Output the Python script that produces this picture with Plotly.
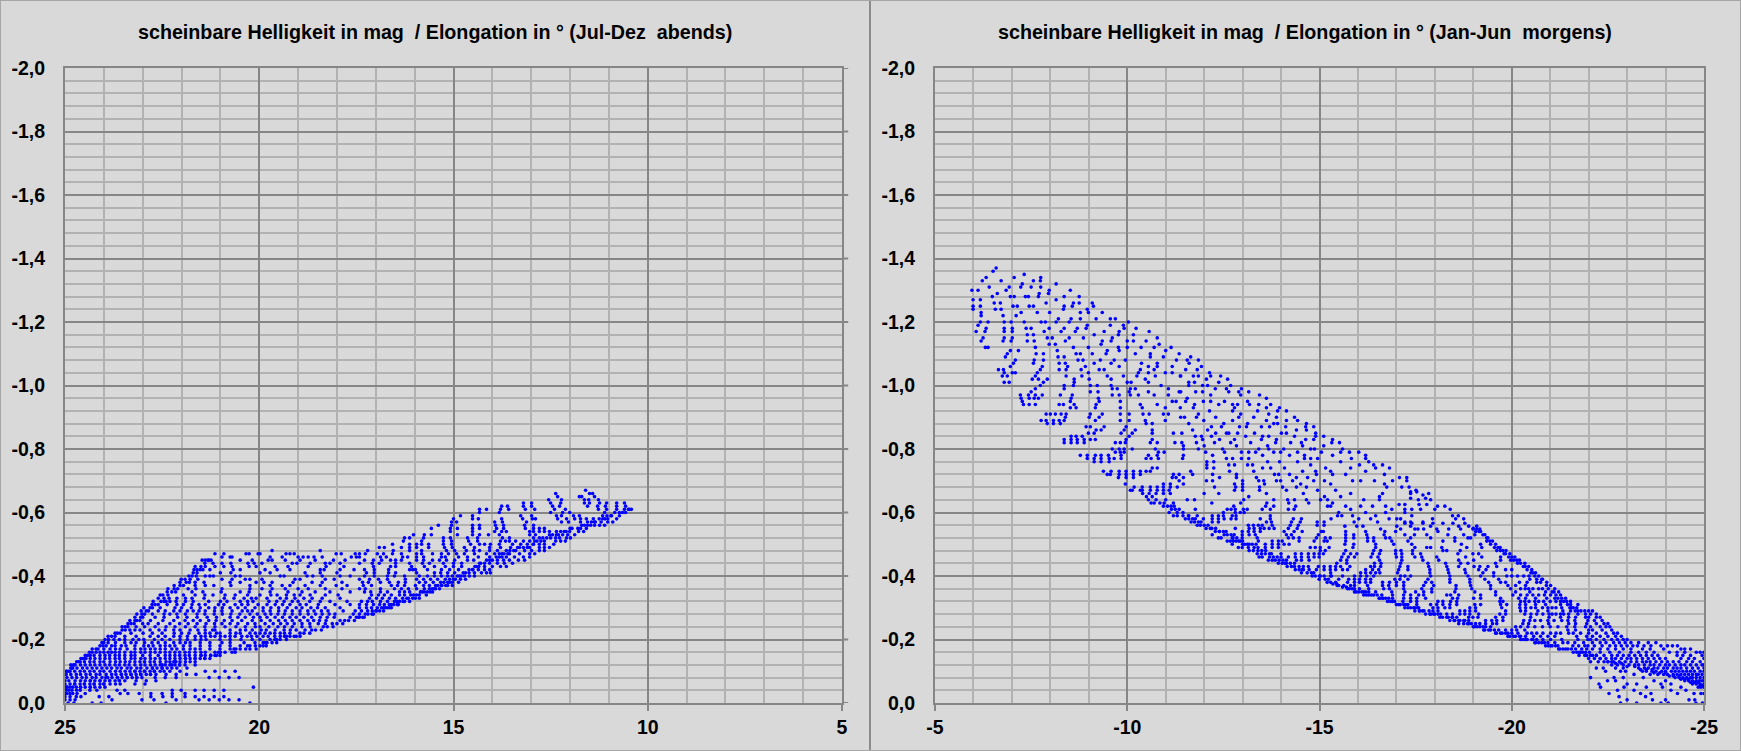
import plotly.graph_objs as go

# values: (magnitude, [elongations at that magnitude])
x_ticks_left = [25, 20, 15, 10, 5]
x_ticks_right = [-5, -10, -15, -20, -25]
y_ticks = [-2.0, -1.8, -1.6, -1.4, -1.2, -1.0, -0.8, -0.6, -0.4, -0.2, 0.0]
y_labels = ["-2,0", "-1,8", "-1,6", "-1,4", "-1,2", "-1,0", "-0,8", "-0,6", "-0,4", "-0,2", "0,0"]
title_left = "scheinbare Helligkeit in mag  / Elongation in ° (Jul-Dez  abends)"
title_right = "scheinbare Helligkeit in mag  / Elongation in ° (Jan-Jun  morgens)"

# left chart, elongation below 17.4
left_upper = [
    (-0.67, [11.6]),
    (-0.66, [12.37, 11.5, 11.42]),
    (-0.65, [12.32, 11.76, 11.7, 11.37]),
    (-0.64, [12.55, 12.22, 11.63, 11.52, 11.27]),
    (-0.63, [13.2, 12.99, 12.5, 12.24, 11.63, 11.5, 11.24, 11.06, 10.8, 10.6]),
    (-0.62, [13.76, 13.61, 13.2, 12.99, 12.45, 12.27, 11.55, 11.29, 11.09, 10.8, 10.57]),
    (-0.61, [14.33, 14.15, 13.79, 13.58, 13.15, 12.91, 12.4, 12.12, 11.27, 11.06, 10.8, 10.47, 10.42]),
    (-0.60, [14.33, 13.82, 12.5, 12.19, 12.01, 11.11, 10.73, 10.57]),
    (-0.59, [14.82, 14.51, 13.27, 12.99, 12.35, 12.22, 11.91, 11.76, 11.16, 10.93, 10.73]),
    (-0.58, [15, 14.51, 14.36, 13.76, 13.22, 12.97, 12.89, 12.32, 12.09, 11.88, 11.73, 11.58, 11.4, 11.16, 11.03, 10.8]),
    (-0.57, [15.05, 14.92, 13.94, 13.74, 13.12, 12.22, 12.04, 11.73, 11.55, 11.37, 11.03, 10.9]),
    (-0.56, [15.39, 15.05, 14.51, 14.33, 13.92, 13.71, 13.17, 12.94, 11.63, 11.47, 11.37, 11.24, 11.11]),
    (-0.55, [15.57, 15.08, 14.9, 14.51, 14.33, 13.89, 13.71, 13.15, 12.94, 12.79, 12.66, 11.73, 11.58]),
    (-0.54, [15.08, 14.51, 13.94, 13.76, 13.64, 13.04, 12.94, 12.79, 12.66, 12.53, 12.35, 12.24, 12.01, 11.78, 11.65]),
    (-0.53, [16.03, 15.75, 15.57, 14.9, 14.51, 14.33, 14.1, 13.82, 13.04, 12.89, 12.53, 12.35, 12.19, 12.06, 11.88]),
    (-0.52, [16.26, 16.13, 15.77, 15.26, 15.08, 14.64, 14.38, 13.74, 13.56, 12.94, 12.79, 12.37, 12.27, 12.09, 11.99]),
    (-0.51, [16.29, 15.82, 15.26, 15.05, 14.61, 14.38, 13.79, 13.66, 13.56, 13.4, 13.2, 13.04, 12.91, 12.66, 12.37, 12.24, 12.12]),
    (-0.50, [16.57, 16.13, 15.95, 15.82, 15.64, 15.26, 15.05, 14.56, 14.33, 14.2, 14.05, 13.82, 13.48, 13.27, 12.94, 12.79, 12.66, 12.42]),
    (-0.49, [16.91, 16.78, 16.34, 16.13, 15.95, 15.64, 15.23, 15.03, 14.72, 14.46, 14.07, 13.79, 13.53, 13.3, 13.04, 12.79, 12.66, 12.53]),
    (-0.48, [17.21, 16.55, 16.13, 15.82, 15.18, 14.97, 14.67, 14.48, 14.33, 14.07, 13.87, 13.64, 13.4, 13.17, 12.99, 12.79, 12.66]),
    (-0.47, [17.42, 17.27, 16.96, 16.8, 16.57, 16.34, 15.95, 15.82, 15.54, 15.31, 15.13, 14.92, 14.72, 14.46, 14.15, 13.94, 13.82, 13.56, 13.3, 13.04, 12.91]),
    (-0.46, [17.42, 16.88, 16.73, 16.31, 16.18, 15.95, 15.77, 15.31, 15.21, 14.87, 14.64, 14.36, 14.07, 13.82, 13.64, 13.43, 13.2, 13.04]),
    (-0.45, [17.29, 17.06, 16.85, 16.62, 16.49, 16.34, 15.95, 15.77, 15.54, 15.36, 15.18, 14.97, 14.64, 14.48, 14.07, 13.87, 13.71, 13.56, 13.33, 13.17]),
    (-0.44, [17.42, 17.09, 16.91, 16.49, 16.13, 15.8, 15.62, 15.26, 15, 14.79, 14.33, 14.07, 13.87, 13.69, 13.48]),
    (-0.43, [17.06, 16.62, 16.49, 16.08, 15.75, 15.49, 15.21, 15, 14.79, 14.41, 14.2, 14.0, 13.79, 13.64]),
    (-0.42, [17.29, 17.04, 16.67, 16.13, 16.05, 15.98, 15.67, 15.31, 15.1, 14.87, 14.51, 14.36, 14.2, 14.07]),
    (-0.41, [17.24, 17.04, 16.67, 16.49, 15.95, 15.49, 15.33, 15.15, 14.97, 14.69, 14.46, 14.28, 14.15, 14.05]),
    (-0.40, [17.29, 17.04, 16.7, 16.52, 16.26, 15.88, 15.67, 15.49, 15.31, 15.15, 15.03, 14.9, 14.72, 14.59, 14.46]),
    (-0.39, [17.42, 17.16, 16.93, 16.7, 16.24, 15.95, 15.77, 15.59, 15.41, 15.21, 14.95, 14.82, 14.69]),
    (-0.38, [17.34, 17.19, 16.88, 16.65, 16.42, 16.24, 15.88, 15.72, 15.52, 15.33, 15.15, 15.03, 14.87]),
    (-0.37, [17.32, 17.11, 16.6, 16.44, 16.26, 15.98, 15.77, 15.62, 15.46, 15.31, 15.15, 15.03]),
    (-0.36, [17.42, 17.27, 16.88, 16.52, 16.34, 16.16, 15.95, 15.75, 15.62, 15.46, 15.36]),
    (-0.35, [17.29, 17.13, 16.88, 16.7, 16.39, 16.26, 16.13, 15.8, 15.67, 15.54]),
    (-0.34, [17.11, 16.93, 16.78, 16.6, 16.39, 16.26, 16.03, 15.88]),
    (-0.33, [17.16, 16.98, 16.83, 16.65, 16.49, 16.31, 16.16, 15.98, 15.88]),
    (-0.32, [17.37, 17.21, 17.09, 16.88, 16.7, 16.52, 16.39, 16.26, 16.13]),
    (-0.31, [17.42, 17.24, 17.06, 16.9, 16.78, 16.65, 16.54, 16.42]),
    (-0.30, [17.42, 17.24, 17.11, 16.96, 16.85, 16.75, 16.65]),
    (-0.29, [17.37, 17.21, 17.09, 16.98]),
    (-0.28, [17.42, 17.27, 17.06]),
    (-0.27, [17.42, 17.34]),
]

# left chart, elongation above 17.4
left_lower = [
    (-0.48, [19.67, 18.43]),
    (-0.47, [21.14, 20.91, 20.34, 20.26, 20.03, 19.98, 19.31, 19.21, 19.1, 18.02, 17.89, 17.53]),
    (-0.46, [20.96, 20.75, 20.7, 19.72, 19.41, 19, 18.87, 18.74, 18.59, 18.38, 17.63, 17.5]),
    (-0.45, [21.47, 21.39, 21.32, 21.24, 20.49, 20.18, 19.77, 19.67, 19.33, 18.95, 18.56, 18.09, 17.79]),
    (-0.44, [21.19, 20.96, 20.73, 20.29, 20.13, 19.93, 19.15, 19.03, 18.69, 18.3, 18.18, 17.92]),
    (-0.43, [21.65, 21.39, 21.14, 20.91, 20.7, 20.26, 20.08, 19.59, 19.26, 18.74, 18.28, 17.82]),
    (-0.42, [21.68, 21.52, 21.27, 20.67, 20.49, 19.85, 19.54, 19.21, 18.43, 18.33, 17.92, 17.56]),
    (-0.41, [21.7, 21.0, 20.73, 19.98, 19.72, 18.82, 18.43, 18.0]),
    (-0.40, [21.81, 21.73, 21.39, 21.27, 21.18, 20.62, 20.49, 19.46, 19.36, 18.77, 18.62, 18.38, 17.92, 17.66]),
    (-0.39, [22.01, 21.91, 21.58, 20.96, 20.7, 20.36, 20.24, 19.93, 19.08, 18.95, 18.3, 18.07]),
    (-0.38, [22.04, 21.88, 21.65, 21.42, 20.75, 20.49, 20.08, 19.88, 19.67, 19.13, 18.64, 18.38, 17.87]),
    (-0.37, [22.19, 22.04, 21.65, 21.39, 21.17, 20.73, 20.24, 19.72, 19.41, 19.21, 18.82, 18.43, 18.02, 17.74]),
    (-0.36, [22.35, 22.19, 21.83, 21.63, 20.96, 20.24, 19.93, 19.67, 19.33, 19.0, 18.74, 18.3, 17.87]),
    (-0.35, [22.37, 21.73, 21.45, 20.98, 20.49, 20.26, 19.72, 19.26, 18.9, 18.56, 18.18, 17.66]),
    (-0.34, [22.55, 22.48, 21.65, 21.19, 20.88, 20.62, 19.98, 19.54, 19.1, 18.69, 18.3, 17.97]),
    (-0.33, [22.6, 22.32, 22.12, 21.73, 21.42, 20.65, 20.39, 20.08, 19.46, 19.08, 18.64, 18.38, 17.92]),
    (-0.32, [22.73, 22.53, 22.14, 21.7, 20.83, 20.49, 20.16, 19.75, 19.36, 19.0, 18.43, 18.18, 17.74]),
    (-0.31, [22.76, 22.68, 22.37, 22.12, 21.73, 21.39, 20.91, 20.62, 20.29, 20.03, 19.59, 19.21, 18.79, 18.48, 18.05, 17.66]),
    (-0.30, [22.97, 22.81, 22.17, 21.52, 21.14, 20.75, 20.36, 20.11, 19.7, 19.28, 19.05, 18.67, 18.3, 17.92]),
    (-0.29, [23.04, 22.91, 22.42, 22.04, 21.7, 21.39, 20.96, 20.44, 20.18, 19.72, 19.33, 18.95, 18.59, 18.23, 17.84, 17.53]),
    (-0.28, [23.15, 23.02, 22.45, 22.3, 22.12, 21.6, 21.16, 20.73, 20.24, 19.85, 19.52, 19.15, 18.74, 18.38, 18.05, 17.58]),
    (-0.27, [23.2, 22.68, 21.86, 21.34, 20.75, 20.36, 19.98, 19.59, 19.21, 18.85, 18.43, 18.07, 17.66]),
    (-0.26, [23.33, 23.07, 22.48, 21.91, 21.52, 21.11, 20.7, 20.18, 19.72, 19.33, 18.95, 18.6, 18.28, 17.92]),
    (-0.25, [23.38, 23.22, 22.86, 22.3, 21.83, 21.37, 20.96, 20.55, 20.11, 19.64, 19.28, 18.9, 18.48, 18.12]),
    (-0.24, [23.53, 23.38, 23.17, 22.68, 22.17, 21.65, 21.14, 20.88, 20.36, 19.98, 19.52, 19.15, 18.69]),
    (-0.23, [23.53, 23.33, 23.07, 22.81, 22.58, 22.42, 22.04, 21.78, 21.58, 21.39, 21.14, 20.75, 20.49, 20.18, 19.82, 19.59, 19.36, 19.05, 18.82]),
    (-0.22, [23.71, 23.58, 23.3, 22.99, 22.19, 21.81, 21.39, 21.27, 21.01, 20.75, 20.49, 20.24, 19.98, 19.72, 19.46, 19.21]),
    (-0.21, [23.89, 23.71, 23.46, 23.17, 22.81, 22.42, 22.04, 21.65, 21.39, 21.14, 20.88, 20.62, 20.31, 20.06, 19.77, 19.46, 19.21, 18.95]),
    (-0.20, [23.97, 23.74, 23.46, 23.25, 22.97, 22.5, 22.04, 21.65, 21.37, 21.01, 20.75, 20.47, 20.18, 19.98, 19.72, 19.46]),
    (-0.19, [24.05, 23.89, 23.46, 23.17, 22.76, 22.42, 22.04, 21.78, 21.52, 21.27, 20.96, 20.75, 20.39, 20.11, 19.9, 19.67]),
    (-0.18, [24.1, 23.94, 23.71, 23.43, 22.97, 22.73, 22.42, 22.17, 21.78, 21.52, 21.27, 21.01, 20.75, 20.49, 20.24, 19.98, 19.82]),
    (-0.17, [24.3, 24.15, 23.84, 23.58, 23.2, 22.94, 22.68, 22.42, 22.12, 21.78, 21.52, 21.27, 21.01, 20.75, 20.49, 20.24, 20.08]),
    (-0.16, [24.3, 24.1, 23.89, 23.71, 23.46, 23.2, 22.94, 22.68, 22.42, 22.17, 21.91, 21.65, 21.39, 21.14, 20.88, 20.62]),
    (-0.15, [24.48, 24.25, 23.97, 23.71, 23.46, 23.2, 22.81, 22.42, 22.17, 21.91, 21.65, 21.39, 21.14, 21.01]),
    (-0.14, [24.59, 24.46, 24.23, 23.97, 23.71, 23.46, 23.2, 22.94, 22.68, 22.42, 22.17, 22.04, 21.78, 21.52, 21.27]),
    (-0.13, [24.61, 24.36, 24.1, 23.84, 23.58, 23.33, 23.07, 22.81, 22.55, 22.3, 22.04, 21.78, 21.65]),
    (-0.12, [24.85, 24.74, 24.48, 24.23, 23.97, 23.71, 23.46, 23.2, 22.94, 22.68, 22.42, 22.17, 21.91, 21.65]),
    (-0.11, [24.69, 24.43, 24.18, 23.92, 23.66, 23.4, 23.15, 22.89, 22.63, 22.37, 22.12, 21.86]),
    (-0.10, [24.97, 24.87, 24.61, 24.36, 24.1, 23.84, 23.58, 23.33, 23.07, 22.81, 22.55, 22.3, 22.04, 21.39, 21.14, 20.88, 20.62]),
    (-0.09, [24.97, 24.71, 24.46, 24.2, 23.94, 23.69, 23.43, 23.17, 22.91, 22.66, 22.4, 22.14, 21.87, 21.63]),
    (-0.08, [24.82, 24.56, 24.3, 24.05, 23.79, 23.53, 23.27, 23.02, 22.68, 22.42, 22.14, 21.29, 21.03, 20.78, 20.52]),
    (-0.07, [25, 24.74, 24.48, 24.23, 23.97, 23.71, 23.46, 23.17, 22.91, 22.66]),
    (-0.06, [25, 24.87, 24.61, 24.36, 24.1, 23.84, 23.58, 23.2, 22.94]),
    (-0.05, [24.87, 24.71, 24.48, 24.23, 23.97, 20.15]),
    (-0.04, [24.97, 24.82, 24.61, 24.36, 24.18, 23.66, 23.46, 22.01, 22.24, 21.65, 21.42, 21.16, 20.91]),
    (-0.03, [25, 24.87, 24.69, 24.48, 23.58, 23.38, 23.09, 22.79, 22.5, 22.24, 21.91]),
    (-0.02, [25, 24.87, 24.71, 24.59, 24.12, 23.87, 22.79, 22.48, 22.24, 21.91, 21.65, 21.42, 21.16, 20.91]),
    (-0.01, [25, 24.87, 24.74, 23.79, 23.02, 22.71, 22.14, 21.55, 21.29, 21.03, 20.78, 20.52]),
    (0.0, [24.92, 24.77, 24.3, 24.07, 22.4, 20.24]),
]

# left chart, more dots between 18 and 23
left_fill = [
    (-0.34, [21.95, 21.4, 20.3, 19.7, 19.3, 18.95]),
    (-0.33, [21.9, 20.9, 20.2, 19.8, 19.3, 18.85]),
    (-0.32, [22.3, 21.9, 21.3, 21.0, 20.3, 19.55, 19.15, 18.7]),
    (-0.31, [21.95, 21.55, 21.05, 20.45, 19.8, 19.4, 18.95]),
    (-0.30, [22.55, 22.0, 21.75, 21.3, 20.95, 20.55, 19.9, 19.5, 18.9, 18.5]),
    (-0.29, [22.6, 22.2, 21.85, 21.55, 21.15, 20.7, 20.3, 19.9, 19.5, 19.15, 18.75, 18.4]),
    (-0.28, [22.75, 21.9, 21.4, 20.95, 20.5, 20.05, 19.7, 19.35, 18.95, 18.55, 18.2]),
    (-0.27, [23.0, 22.45, 22.1, 21.6, 21.1, 20.55, 20.15, 19.8, 19.4, 19.05, 18.65, 18.25]),
    (-0.26, [23.15, 22.8, 22.2, 21.7, 21.3, 20.9, 20.45, 19.95, 19.5, 19.15, 18.75, 18.45]),
    (-0.25, [23.0, 22.6, 22.05, 21.6, 21.15, 20.75, 20.3, 19.85, 19.45, 19.1, 18.7, 18.3]),
    (-0.24, [22.95, 22.4, 21.9, 21.4, 20.6, 20.1, 19.75, 19.35, 18.9]),
    (-0.23, [23.2, 22.2, 21.2, 20.35, 19.95, 19.2]),
    (-0.22, [22.75, 22.5, 22.0, 21.55, 21.1, 20.6, 20.1, 19.85, 19.6, 19.35]),
    (-0.21, [22.6, 22.2, 21.85, 21.5, 21.25, 21.0, 20.75, 20.45, 20.2, 19.9, 19.6, 19.35]),
]

# left chart, upper and lower rim of the cloud, where the dots run together
left_upper_rim = [
    (-0.10, [24.95, 24.9]), (-0.11, [24.85, 24.82]), (-0.12, [24.78]), (-0.13, [24.7, 24.65]),
    (-0.14, [24.55, 24.5]), (-0.15, [24.42]), (-0.16, [24.37]), (-0.17, [24.2]), (-0.18, [24.02]),
    (-0.19, [24.0]), (-0.20, [23.88]), (-0.21, [23.8]), (-0.22, [23.65]), (-0.23, [23.45]),
    (-0.24, [23.45]), (-0.25, [23.3]), (-0.26, [23.2]), (-0.27, [23.05]), (-0.28, [22.95]),
    (-0.29, [22.85]), (-0.30, [22.75]), (-0.31, [22.6]), (-0.32, [22.45, 22.4]), (-0.33, [22.45]),
    (-0.34, [22.35]), (-0.35, [22.25, 22.15]), (-0.36, [22.1]), (-0.37, [21.95]), (-0.38, [21.8]),
    (-0.39, [21.78]), (-0.40, [21.62]), (-0.41, [21.6]), (-0.42, [21.6, 21.45]), (-0.43, [21.5]),
    (-0.44, [21.4]), (-0.45, [21.3]),
]

left_lower_rim = [
    (-0.61, [10.5, 10.6]), (-0.60, [10.65, 10.85]), (-0.59, [10.95, 11.05]), (-0.58, [11.1, 11.25]),
    (-0.57, [11.2, 11.35, 11.45]), (-0.56, [11.55, 11.7]), (-0.55, [11.8, 11.95, 12.0]), (-0.54, [12.1, 12.15]),
    (-0.53, [12.3, 12.45]), (-0.52, [12.5, 12.6, 12.7]), (-0.51, [12.75, 12.85]), (-0.50, [12.95, 13.1]),
    (-0.49, [13.1, 13.2, 13.35]), (-0.48, [13.45, 13.55]), (-0.47, [13.6, 13.7, 13.75]), (-0.46, [13.75, 13.9]),
    (-0.45, [14.0, 14.15]), (-0.44, [14.2, 14.3]), (-0.43, [14.35, 14.45]), (-0.42, [14.5, 14.6]),
    (-0.41, [14.6, 14.75]), (-0.40, [14.8, 14.85]), (-0.39, [15.0, 15.1]), (-0.38, [15.1, 15.25]),
    (-0.37, [15.2, 15.3, 15.4]), (-0.36, [15.5, 15.55]), (-0.35, [15.6, 15.75, 15.85]), (-0.34, [15.7, 15.95, 16.1]),
    (-0.33, [16.05, 16.2]), (-0.32, [16.3, 16.45]), (-0.31, [16.45, 16.6]), (-0.30, [16.6, 16.7, 16.8]),
    (-0.29, [16.8, 16.9, 17.0]), (-0.28, [17.1, 17.2]), (-0.27, [17.3, 17.45, 17.5]), (-0.26, [17.55, 17.7, 17.8]),
    (-0.25, [17.85, 18.0]), (-0.24, [18.1, 18.25, 18.35]), (-0.23, [18.4, 18.55, 18.65]), (-0.22, [18.7, 18.85, 18.95]),
    (-0.21, [19.05, 19.1, 19.3]), (-0.20, [19.3, 19.55, 19.6]), (-0.19, [19.55, 19.8, 19.85]), (-0.18, [19.9, 20.1, 20.3]),
    (-0.17, [20.35, 20.6, 20.65]), (-0.16, [20.7, 21.0, 21.05]), (-0.15, [21.1, 21.25, 21.5]), (-0.14, [21.4, 21.65, 21.9]),
    (-0.13, [21.9, 22.15, 22.2]), (-0.12, [22.05, 22.25, 22.5]), (-0.11, [22.25, 22.5, 22.75]), (-0.10, [22.7, 22.95, 23.2]),
    (-0.09, [22.8, 23.05, 23.3, 23.55]), (-0.08, [23.15, 23.4, 23.65, 23.9]), (-0.07, [23.6, 23.85, 24.1, 24.35]),
    (-0.06, [24.0, 24.25, 24.5, 24.75]), (-0.05, [24.35, 24.6, 24.8, 24.95]), (-0.04, [24.7, 24.9]), (-0.03, [24.8, 24.95]),
]

# left chart, the thick part near 25
left_dense = [
    (-0.20, [23.6, 23.1, 22.7, 22.3, 21.85, 21.5]),
    (-0.19, [23.7, 23.3, 22.95, 22.6, 22.2, 21.9]),
    (-0.18, [23.8, 23.55, 23.2, 22.85, 22.55, 22.3, 21.95]),
    (-0.17, [24.0, 23.7, 23.4, 23.05, 22.8, 22.55, 22.25, 21.95, 21.65]),
    (-0.16, [24.2, 24.0, 23.8, 23.6, 23.3, 23.05, 22.8, 22.55, 22.3, 22.05, 21.8, 21.5]),
    (-0.15, [24.35, 24.1, 23.85, 23.6, 23.3, 23.0, 22.6, 22.3, 22.05, 21.8, 21.5, 21.25]),
    (-0.14, [24.35, 24.1, 23.85, 23.6, 23.3, 23.05, 22.8, 22.55, 22.3, 21.9, 21.65, 21.4]),
    (-0.13, [24.5, 24.25, 24.0, 23.7, 23.45, 23.2, 22.95, 22.7, 22.4, 22.15]),
    (-0.12, [24.6, 24.35, 24.1, 23.85, 23.6, 23.35, 23.05, 22.8, 22.55, 22.3, 22.05]),
    (-0.11, [24.8, 24.55, 24.3, 24.05, 23.8, 23.55, 23.3, 23.05, 22.75, 22.5]),
    (-0.10, [24.75, 24.5, 24.25, 24.0, 23.7, 23.45, 23.2, 22.95, 22.7, 22.45]),
    (-0.09, [24.85, 24.6, 24.35, 24.1, 23.8, 23.55, 23.3, 23.05, 22.8]),
    (-0.08, [24.95, 24.7, 24.45, 24.2, 23.95, 23.65, 23.4, 23.15]),
    (-0.07, [24.9, 24.6, 24.35, 24.1, 23.85, 23.6]),
    (-0.06, [24.75, 24.5, 24.25, 24.0, 23.7]),
    (-0.05, [25, 24.95, 24.6, 24.35, 24.1]),
]

# right chart, crescents at the bright end
right_top = [
    (-1.37, [-6.59]),
    (-1.36, [-6.51]),
    (-1.35, [-7.32]),
    (-1.34, [-6.33, -7.06, -7.75]),
    (-1.33, [-6.23, -6.72, -7.56, -7.74]),
    (-1.32, [-7.27, -8.15]),
    (-1.31, [-6.41, -6.93, -7.23, -7.5, -7.75]),
    (-1.30, [-5.96, -6.12, -6.85, -7.97, -8.52]),
    (-1.29, [-6.62, -7.71, -7.95]),
    (-1.28, [-6.49, -6.96, -7.06, -7.35, -7.43, -7.69, -8.36, -8.75]),
    (-1.27, [-5.99, -6.18, -8.15]),
    (-1.26, [-6.54, -6.7, -7.89, -8.6, -8.75, -9.09]),
    (-1.25, [-5.99, -6.18, -7.03, -7.14, -7.45, -7.56, -8.36, -8.57, -9.12]),
    (-1.24, [-5.99, -6.57, -6.72, -8.34, -8.96]),
    (-1.23, [-6.2, -7.24, -7.66, -7.98, -8.78, -8.99, -9.35]),
    (-1.22, [-6.2, -6.77, -7.11]),
    (-1.21, [-8.21, -8.54, -8.78, -9.19, -9.56, -9.69]),
    (-1.20, [-6.18, -6.38, -6.8, -6.98, -7.32, -7.76, -7.87, -8.15, -8.49, -10.03]),
    (-1.19, [-6.12, -8.96, -9.56, -9.9]),
    (-1.18, [-6.33, -6.8, -7.01, -7.37, -7.5, -7.97, -8.36, -8.7, -8.93, -9.92, -10.23]),
    (-1.17, [-6.07, -6.3, -6.8, -7.01, -7.84, -8.28, -8.65, -9.4, -9.79, -10.57]),
    (-1.16, [-7.4, -7.56, -9.14, -9.77, -10.16]),
    (-1.15, [-6.25, -6.8, -7.01, -7.92, -8.05, -8.49, -8.86, -9.61, -10.78]),
    (-1.14, [-6.2, -6.77, -6.98, -7.4, -7.58, -8.39, -9.35, -9.58, -10.0, -10.16, -10.49]),
    (-1.13, [-7.97, -8.13, -9.32, -10.83]),
    (-1.12, [-6.31, -6.38, -7.61, -8.6, -8.99, -9.77, -10.0, -10.36, -10.7, -11.14]),
    (-1.11, [-6.96, -7.17, -8.18, -9.48, -9.79, -11.0]),
    (-1.10, [-6.88, -7.63, -7.82, -8.67, -8.78, -9.09, -9.45, -10.21, -10.6, -11.35]),
    (-1.09, [-6.83, -8.2, -8.36, -10.6, -10.94, -11.65]),
    (-1.08, [-7.09, -7.58, -7.82, -8.72, -8.85, -9.3, -9.66, -9.95, -11.28, -11.56, -11.85]),
    (-1.07, [-7.04, -7.56, -8.23, -8.39, -9.14, -9.58, -10.37, -10.78, -11.61]),
    (-1.06, [-6.96, -7.79, -8.45, -8.91, -9.79, -10.55, -10.78, -11.17, -11.93]),
    (-1.05, [-6.65, -6.78, -7.74, -8.23, -8.41, -8.8, -9.27, -9.4, -10.34, -10.7, -11.52, -11.82]),
    (-1.04, [-6.8, -7.01, -7.09, -7.66, -8.99, -10.29, -10.55, -10.99, -11.17, -12.14]),
    (-1.03, [-6.75, -6.88, -7.61, -8.41, -8.82, -9.48, -9.9, -10.25, -10.73, -11.38, -11.39, -11.72, -11.85, -12.17, -12.43]),
    (-1.02, [-7.53, -7.69, -7.92, -8.62, -9.01, -9.58, -10.47, -12.06, -12.61]),
    (-1.01, [-6.8, -6.93, -7.82, -8.62, -10.0, -10.1, -10.55, -11.6, -11.75, -12.38]),
    (-1.00, [-7.74, -8.36, -8.6, -9.04, -9.22, -9.58, -10.88, -11.6, -11.96, -12.09, -12.69]),
    (-0.99, [-7.61, -8.36, -9.61, -9.74, -10.08, -10.21, -11.07, -12.29, -12.58, -12.97]),
    (-0.98, [-7.5, -9.04, -9.24, -10.05, -10.55, -11.35, -11.39, -11.78, -11.96, -12.64, -12.9, -13.16]),
    (-0.97, [-7.22, -7.43, -7.61, -7.79, -8.26, -8.57, -9.61, -9.79, -10.08, -10.29, -10.7, -11.07, -12.17, -12.95, -13.44]),
    (-0.96, [-7.24, -7.45, -7.58, -7.69, -8.54, -9.25, -11.56, -13.62]),
    (-0.95, [-7.27, -8.52, -9.27, -9.82, -11.17, -11.27, -11.52, -11.98, -12.17, -12.53, -13.13]),
    (-0.94, [-7.3, -7.45, -7.61, -8.23, -8.34, -8.62, -9.19, -10.34, -10.78, -11.75, -12.38, -12.74, -12.87, -13.18, -13.42, -13.73]),
    (-0.93, [-8.52, -8.67, -9.17, -9.82, -10.39, -10.99, -11.38, -11.72, -12.79, -13.62, -13.96]),
    (-0.92, [-12.14, -12.74, -13.39, -13.91, -14.14]),
    (-0.91, [-7.89, -8.0, -8.13, -8.28, -8.41, -9.04, -9.35, -9.82, -10.05, -10.41, -10.57, -10.94, -11.07, -11.85, -12.95, -13.68]),
    (-0.90, [-8.39, -9.01, -9.27, -11.39, -11.49, -11.8, -12.3, -12.9, -13.29, -13.88, -14.35]),
    (-0.89, [-7.76, -7.89, -8.08, -8.23, -8.36, -9.17, -9.82, -10.05, -10.47, -10.99, -11.99, -12.74, -13.62, -14.14, -14.43]),
    (-0.88, [-7.92, -8.08, -8.26, -10.49, -10.65, -11.6, -12.51, -13.13, -13.81, -13.91, -14.66]),
    (-0.87, [-8.93, -9.04, -9.4, -9.97, -12.19, -12.45, -12.92, -13.1, -13.49, -13.7, -14.12, -14.64, -14.85]),
    (-0.86, [-9.19, -9.32, -9.92, -10.21, -10.65, -11.7, -12.09, -14.4, -14.66]),
    (-0.85, [-8.99, -9.14, -9.84, -10.13, -10.65, -11.2, -11.42, -12.3, -12.58, -12.64, -12.87, -13.31, -14.01, -14.14, -14.9]),
    (-0.84, [-8.54, -8.67, -8.83, -10.05, -11.77, -11.93, -12.19, -13.08, -13.52, -13.68, -14.35, -15.11, -14.9]),
    (-0.83, [-8.36, -8.54, -8.7, -8.88, -9.04, -9.17, -9.97, -10.65, -11.96, -12.4, -12.79, -13.49, -13.88, -14.64, -14.85, -15.34]),
    (-0.82, [-8.36, -8.54, -8.7, -8.88, -9.69, -9.82, -9.95, -10.6, -10.78, -11.24, -11.42, -11.8, -12.27, -12.69, -13.21, -13.86, -14.25, -14.53, -15.32, -15.52]),
    (-0.81, [-11.46, -12.0, -12.84, -13.65, -14.56, -15.11]),
    (-0.80, [-9.61, -9.79, -9.92, -10.13, -10.73, -11.46, -11.85, -12.48, -13.42, -13.68, -14.07, -14.77, -14.87, -15.6]),
    (-0.79, [-9.69, -9.82, -9.92, -10.81, -10.96, -12.04, -12.53, -12.97, -13.16, -13.34, -13.81, -13.99, -14.43, -15.05, -15.55, -15.78, -16.02]),
    (-0.78, [-8.78, -8.96, -9.17, -9.32, -9.51, -9.84, -10.55, -10.78, -11.46, -12.22, -13.52, -14.22, -14.61, -15.34, -16.2]),
    (-0.77, [-8.96, -9.14, -9.32, -9.53, -9.66, -9.84, -10.49, -10.62, -10.81, -11.44, -12.58, -12.74, -12.97, -13.16, -14.61, -14.77, -14.95, -15.83, -16.2]),
    (-0.76, [-9.14, -9.32, -9.53, -12.07, -12.25, -13.65, -13.96, -14.43, -15.55, -16.28]),
    (-0.75, [-12.07, -12.64, -12.79, -13.13, -13.26, -14.77, -16.04, -16.41, -16.64]),
    (-0.74, [-10.65, -10.78, -12.07, -12.25, -13.52, -13.73, -14.09, -15.16, -15.81, -16.46, -16.82]),
    (-0.73, [-9.38, -9.58, -9.79, -9.97, -10.16, -10.34, -10.49, -10.6, -11.65, -12.66, -13.29, -14.56, -14.9, -15.29, -16.2]),
    (-0.72, [-9.48, -9.56, -9.79, -9.97, -10.16, -10.34, -11.2, -11.35, -11.7, -12.22, -12.84, -13.83, -13.94, -14.22, -14.92, -15.34, -15.68, -16.69]),
    (-0.71, [-9.77, -9.97, -10.16, -11.17, -11.27, -11.46, -12.4, -12.84, -13.36, -14.4, -14.69, -17.08, -17.27]),
    (-0.70, [-11.35, -12.06, -12.22, -13.0, -13.42, -13.55, -13.88, -13.99, -14.3, -14.85, -15.13, -15.86, -16.07, -16.43, -16.9, -17.27]),
    (-0.69, [-9.95, -10.94, -11.12, -11.46, -12.79, -13.0, -13.57, -14.51, -15.29, -16.69]),
    (-0.68, [-10.18, -10.39, -10.6, -10.78, -10.94, -11.12, -11.3, -12.27, -12.82, -13.0, -13.44, -14.04, -14.4, -14.66, -16.75, -17.14, -17.33]),
    (-0.67, [-10.08, -10.13, -10.34, -10.39, -10.6, -10.78, -10.94, -11.09, -12.79, -13.0, -13.44, -14.14, -14.95, -15.42, -17.51]),
    (-0.665, [-17.37, -17.53]),
    (-0.66, [-10.57, -10.75, -10.94, -11.12, -12.0, -12.38, -13.62, -14.58, -15.81, -16.64, -17.37, -17.84]),
    (-0.655, [-17.69]),
    (-0.65, [-13.16, -15.13, -15.55, -16.56]),
    (-0.645, [-17.76, -17.37]),
    (-0.64, [-10.55, -10.75, -11.0, -11.56, -11.75, -13.03, -13.81, -14.17, -14.35, -14.66, -15.03, -15.21, -16.15, -16.56, -17.89, -17.57]),
    (-0.63, [-10.62, -10.7, -10.96, -11.2, -12.2, -12.95, -13.63, -14.2, -14.72, -15.34]),
    (-0.625, [-17.07, -17.22, -17.59, -17.79]),
    (-0.62, [-10.94, -11.14, -11.22, -12.77, -13.6, -13.81, -14.38, -15.21, -15.29, -15.68, -16.07, -16.38, -16.72, -18.07, -18.26]),
]

# right chart, lower edge of the crescents up to elongation -15.3
right_edge = [
    (-0.61, [-11.35, -11.77, -12.6, -12.7, -12.81, -13.02, -13.12, -13.51, -13.72, -14.19, -14.34, -15.81, -16.88, -17.22, -17.4, -17.63, -18.0, -18.4]),
    (-0.60, [-11.09, -12.5, -12.81, -12.94, -13.04, -15.5, -16.2, -16.72, -17.22]),
    (-0.59, [-11.2, -11.3, -11.59, -11.82, -12.21, -12.37, -12.5, -12.73, -12.83, -13.72, -15.47, -15.58, -15.86, -16.46, -17.4, -18.46, -18.61]),
    (-0.58, [-11.51, -11.77, -11.98, -12.21, -12.37, -12.52, -12.7, -12.83, -13.46, -13.72, -14.32, -14.53, -15.3, -16.02, -16.33, -16.81, -17.01, -17.11, -17.94, -18.54, -18.75]),
    (-0.57, [-11.66, -11.92, -12.21, -12.37, -13.62, -13.75, -14.27, -14.5, -14.94, -15.12, -15.9, -16.51, -17.22, -17.37, -17.69]),
    (-0.56, [-11.82, -11.9, -13.15, -13.28, -13.41, -13.51, -13.77, -14.24, -14.45, -14.94, -15.12]),
    (-0.55, [-12.05, -12.16, -12.81, -13.17, -13.3, -13.46, -13.56, -13.69, -13.82, -14.19, -14.42]),
    (-0.54, [-12.29, -12.39, -12.57, -12.99, -13.15, -13.3, -13.46, -14.08, -14.34, -14.55, -15.05, -15.1]),
    (-0.53, [-12.21, -12.52, -12.78, -12.99, -13.17, -13.33, -14.14, -14.27, -14.97]),
    (-0.52, [-12.37, -12.44, -12.73, -12.99, -13.38, -14.19, -14.32, -14.47, -14.92, -15.15, -15.28]),
    (-0.51, [-12.6, -12.68, -12.76, -12.83, -12.94, -13.41, -13.77, -13.93, -14.03, -14.47, -14.86, -15.12, -15.2]),
    (-0.50, [-12.73, -13.12, -13.17, -13.35, -13.59, -13.77, -13.93, -14.08, -14.21]),
    (-0.49, [-12.89, -12.99, -13.3, -13.59, -13.77, -13.93, -14.76, -14.89, -15.02, -15.25]),
    (-0.48, [-13.17, -13.28, -15.02, -15.15]),
    (-0.47, [-13.38, -13.49, -13.59, -13.75, -14.0, -14.37, -14.53, -14.71, -14.86, -14.99, -15.1]),
    (-0.46, [-13.43, -13.51, -13.9, -14.0, -14.19, -14.37, -14.53, -14.71, -14.86, -14.99]),
    (-0.45, [-13.67, -13.77, -13.85, -14.14, -14.4, -14.53, -14.73]),
    (-0.44, [-13.93, -14.03, -14.14, -14.24]),
    (-0.43, [-14.16, -14.27, -14.47, -14.58, -14.71, -14.97, -15.12, -15.28]),
    (-0.42, [-14.37, -14.47, -14.58, -14.73, -14.92, -15.12, -15.28]),
    (-0.41, [-14.53, -14.68, -14.79]),
    (-0.40, [-14.81, -14.89, -15.02, -15.12, -15.31]),
    (-0.39, [-14.99, -15.15, -15.23]),
    (-0.38, [-15.2]),
]

# right chart, crescents from -15.3 to -22
right_mid = [
    (-0.566, [-17.22, -17.4, -17.69, -17.95, -18.21, -18.47, -18.78]),
    (-0.557, [-15.66, -15.97, -16.13, -17.01, -17.37, -17.89, -18.62, -18.88, -19.09]),
    (-0.548, [-19.09, -19.17, -17.56, -16.59, -17.11, -17.48, -17.71, -18.05, -18.36, -18.67, -18.99]),
    (-0.54, [-15.68, -16.2, -16.7, -16.98, -18.08, -19.06, -19.19]),
    (-0.53, [-15.68, -15.89, -16.23, -16.68, -17.22, -17.47, -17.79, -18.34, -18.75, -19.04, -19.3]),
    (-0.52, [-15.68, -15.89, -16.25, -16.41, -16.72, -16.83, -17.37, -17.89, -18.52, -18.86, -18.93, -19.38]),
    (-0.51, [-15.68, -16.25, -16.41, -16.88, -17.3, -18.21, -18.52, -19.43]),
    (-0.50, [-15.66, -15.89, -16.46, -16.93, -17.4, -18.69, -19.19, -19.58]),
    (-0.49, [-15.87, -16.46, -17.48, -17.79, -17.89, -18.18, -18.83, -19.22, -19.64]),
    (-0.48, [-15.68, -16.41, -16.59, -16.98, -17.12, -17.42, -18.21, -18.31, -18.66, -19.77, -19.61]),
    (-0.47, [-15.63, -15.81, -15.97, -16.38, -16.56, -16.98, -17.14, -17.42, -17.63, -18.6, -18.99, -19.14, -19.84]),
    (-0.46, [-15.58, -15.75, -15.91, -16.34, -16.52, -17.0, -17.14, -17.48, -17.66, -18.05, -18.8, -19.22, -19.71, -19.92, -20.08]),
    (-0.45, [-15.55, -15.71, -16.56, -17.14, -17.69, -18.1, -18.62, -19.01, -19.71, -19.97, -20.13]),
    (-0.44, [-15.45, -15.71, -16.43, -16.6, -17.11, -17.82, -18.28, -18.67, -18.86, -19.58, -20.23, -20.34]),
    (-0.43, [-15.42, -15.55, -15.79, -16.33, -16.43, -16.59, -17.09, -17.3, -17.84, -18.31, -18.62, -19.02, -19.17, -19.38, -19.61, -20.44]),
    (-0.42, [-15.42, -15.6, -15.73, -16.2, -16.38, -16.54, -17.06, -17.3, -17.87, -18.34, -18.78, -19.14, -19.33, -19.84, -20.0, -20.52]),
    (-0.41, [-15.29, -16.07, -16.2, -16.33, -16.46, -16.57, -17.03, -17.87, -18.36, -18.8, -19.25, -19.53, -20.62]),
    (-0.40, [-15.29, -15.6, -15.91, -16.07, -16.23, -16.41, -17.11, -17.22, -17.37, -17.89, -18.39, -18.86, -19.19, -19.53, -19.87, -20, -20.31, -20.7]),
    (-0.39, [-15.5, -15.76, -15.91, -16.04, -16.2, -16.33, -16.96, -17.09, -17.3, -17.82, -18.39, -18.91, -19.3, -19.66, -20.47, -20.78]),
    (-0.38, [-15.29, -15.42, -15.73, -15.91, -16.04, -16.2, -16.33, -16.64, -16.82, -17.0, -17.19, -17.76, -17.92, -18.39, -18.91, -19.4, -19.71, -19.84, -20.65, -20.91]),
    (-0.37, [-15.46, -15.63, -15.81, -15.91, -16.25, -16.64, -16.8, -17.0, -17.19, -17.71, -17.97, -18.55, -18.93, -19.45, -19.9, -20.1, -20.36, -21.01]),
    (-0.36, [-15.73, -15.91, -16.04, -16.28, -16.67, -16.82, -17.19, -17.66, -17.92, -18.55, -18.96, -19.45, -19.97, -20.23, -20.44, -20.7, -21.12]),
    (-0.35, [-15.91, -16.02, -16.15, -16.28, -16.46, -16.88, -17.22, -17.5, -17.71, -17.92, -18.52, -19.04, -19.58, -20.1, -20.47, -20.88, -21.22]),
    (-0.34, [-16.15, -16.28, -16.41, -16.62, -16.9, -17.19, -17.37, -17.58, -17.71, -18.31, -18.41, -18.62, -19.19, -19.58, -20.03, -20.23, -20.7, -21.01, -21.27]),
    (-0.33, [-16.57, -16.64, -16.72, -16.9, -17.19, -17.37, -17.53, -17.76, -18.46, -18.59, -19.01, -19.19, -19.71, -20.18, -20.36, -20.62, -20.91, -21.12, -21.4]),
    (-0.32, [-16.77, -16.9, -17.17, -17.37, -17.53, -18.08, -18.21, -18.41, -18.57, -19.69, -19.77, -20.23, -20.34, -20.6, -20.83, -21.27, -21.43, -21.53]),
    (-0.31, [-17.06, -17.19, -17.53, -17.89, -18.05, -18.21, -18.39, -18.57, -19.04, -19.19, -19.71, -19.87, -20.21, -20.36, -20.62, -20.88, -21.27, -21.53, -21.72]),
    (-0.30, [-17.22, -17.37, -17.48, -17.58, -17.95, -18.08, -18.26, -18.39, -18.91, -19.06, -19.74, -20.21, -20.36, -20.62, -20.94, -21.3, -21.51, -21.69]),
    (-0.29, [-17.48, -17.6, -17.68, -17.95, -18.08, -18.65, -18.78, -18.91, -19.06, -19.84, -20.23, -20.36, -20.68, -20.94, -21.33, -21.53, -21.72, -21.9, -22.0, -22.1]),
    (-0.28, [-17.76, -17.87, -17.97, -18.08, -18.31, -18.46, -18.65, -18.78, -18.91, -19.14, -19.69, -19.84, -20.34, -20.81, -20.97, -21.27, -21.48, -21.72, -21.92, -22.05, -22.2]),
    (-0.27, [-18.13, -18.31, -18.46, -18.57, -18.88, -18.99, -19.12, -19.58, -19.77, -20.49, -20.97, -21.27, -21.48, -21.66, -21.92, -22.0, -22.2, -22.3]),
    (-0.26, [-18.39, -18.52, -18.62, -18.78, -18.88, -19.32, -19.48, -19.61, -19.77, -20.31, -20.47, -20.94, -21.46, -21.64, -21.98, -22.15, -22.35]),
    (-0.25, [-18.62, -18.75, -18.88, -19.06, -19.17, -19.32, -19.5, -19.61, -20.29, -20.44, -20.96, -21.48, -21.66, -21.95, -22.2, -22.4, -22.5]),
    (-0.24, [-19.04, -19.17, -19.32, -19.45, -20.1, -20.23, -20.42, -21.43, -21.64, -21.92, -22.05, -22.3, -22.45, -22.55]),
    (-0.23, [-19.27, -19.4, -19.66, -19.84, -20.0, -20.13, -20.34, -21.46, -21.66, -22.0, -22.1, -22.35, -22.6]),
    (-0.22, [-19.58, -19.71, -19.84, -20.0, -20.16, -20.52, -20.65, -20.81, -21.01, -21.27, -21.48, -21.79, -22.0, -22.2, -22.45, -22.65, -22.75]),
    (-0.21, [-19.9, -20.05, -20.23, -20.36, -20.57, -20.75, -20.94, -21.12, -21.69, -21.95, -22.1, -22.3, -22.5, -22.7, -22.85]),
    (-0.20, [-20.23, -20.36, -20.52, -20.65, -20.81, -21.01, -21.3, -21.72, -21.98, -22.05, -22.2, -22.4, -22.6, -22.75, -22.9, -23.0]),
    (-0.19, [-20.62, -20.78, -20.94, -21.12, -21.33, -21.46, -21.64, -21.87, -22.1, -22.3, -22.45, -22.65, -22.8, -22.95, -23.1, -23.3, -23.55, -23.75]),
    (-0.18, [-20.88, -21.01, -21.14, -21.59, -21.74, -21.9, -21.98, -22.15, -22.35, -22.55, -22.7, -22.85, -23.0, -23.15, -23.27, -23.44, -23.62, -23.88, -24.05, -24.18, -24.31]),
    (-0.17, [-21.22, -21.33, -21.46, -21.66, -21.82, -21.95, -22.1, -22.3, -22.5, -22.7, -22.9, -23.1, -23.4, -23.6, -23.95, -24.4, -24.5, -24.65]),
]

# right chart, more dots where the last crescents crowd, -20 to -21.5
right_crowd = [
    (-0.40, [-20.15, -20.45]), (-0.38, [-20.2, -20.4]), (-0.36, [-20.35, -20.55, -20.8]),
    (-0.34, [-20.4, -20.55, -20.85]), (-0.32, [-20.45, -20.7, -21.0, -21.15]), (-0.30, [-20.5, -20.8, -21.05, -21.15]),
    (-0.28, [-20.5, -20.65, -21.05, -21.15, -21.35]), (-0.26, [-20.6, -20.75, -21.1, -21.3]),
    (-0.24, [-20.6, -20.8, -21.0, -21.2]), (-0.22, [-20.4, -21.15, -21.6]),
]

# right chart, upper rim from -19 to -22
right_upper_rim = [
    (-0.55, [-19.0]), (-0.54, [-19.15]), (-0.53, [-19.25]), (-0.52, [-19.35]), (-0.51, [-19.35, -19.5]),
    (-0.50, [-19.45]), (-0.49, [-19.55, -19.7]), (-0.48, [-19.7, -19.85]), (-0.47, [-19.8, -19.95]),
    (-0.46, [-20.0]), (-0.45, [-20.05, -20.2]), (-0.44, [-20.15]), (-0.43, [-20.3, -20.35]), (-0.42, [-20.4]),
    (-0.41, [-20.5, -20.55]), (-0.40, [-20.6]), (-0.39, [-20.65, -20.8]), (-0.38, [-20.75]), (-0.37, [-20.9]),
    (-0.36, [-20.95]), (-0.35, [-21.05, -21.1]), (-0.34, [-21.15]), (-0.33, [-21.2, -21.3]), (-0.32, [-21.35]),
    (-0.31, [-21.45]), (-0.30, [-21.55, -21.6]), (-0.29, [-21.65, -21.8]),
]

# right chart, the lower rim where the dots run together
right_rim = [
    (-0.66, [-10.4]), (-0.65, [-10.5, -10.65]), (-0.63, [-10.85]), (-0.62, [-11.05]), (-0.61, [-11.15, -11.25]),
    (-0.60, [-11.3, -11.45]), (-0.59, [-11.45, -11.6]), (-0.58, [-11.6, -11.7]), (-0.57, [-11.75, -11.85]),
    (-0.56, [-12.0, -12.1]), (-0.55, [-12.2, -12.3]), (-0.54, [-12.4, -12.5]), (-0.53, [-12.6, -12.7]),
    (-0.52, [-12.75, -12.85]), (-0.51, [-12.9, -13.0]), (-0.50, [-13.0, -13.05, -13.25]), (-0.49, [-13.15, -13.4]),
    (-0.48, [-13.4, -13.5, -13.6]), (-0.47, [-13.7]), (-0.46, [-13.7, -13.8]), (-0.45, [-13.95, -14.05]),
    (-0.44, [-14.1, -14.35]), (-0.43, [-14.35]), (-0.42, [-14.55]), (-0.41, [-14.85]), (-0.40, [-15.0]),
    (-0.375, [-15.35, -15.45]), (-0.37, [-15.5]), (-0.365, [-15.6, -15.7]), (-0.36, [-15.78, -15.85]),
    (-0.35, [-15.95, -16.1, -16.2]), (-0.34, [-16.22, -16.35, -16.5]), (-0.33, [-16.55, -16.65, -16.8]),
    (-0.32, [-16.85, -16.95]), (-0.31, [-17.0, -17.1, -17.25, -17.3]), (-0.30, [-17.3, -17.45, -17.55]),
    (-0.29, [-17.6, -17.72, -17.85]), (-0.28, [-17.9, -18.0, -18.15]), (-0.27, [-18.2, -18.35, -18.45]),
    (-0.26, [-18.5, -18.65, -18.75]), (-0.25, [-18.85, -18.95]), (-0.24, [-19.0, -19.1, -19.25]),
    (-0.23, [-19.3, -19.45, -19.55]), (-0.22, [-19.6, -19.75, -19.9]), (-0.21, [-19.95, -20.1, -20.2]),
    (-0.20, [-20.3, -20.4, -20.55]), (-0.19, [-20.6, -20.7, -20.85]), (-0.18, [-20.95, -21.05, -21.2]),
    (-0.17, [-21.25, -21.4, -21.55]), (-0.16, [-21.6, -21.75, -21.85]), (-0.15, [-21.95, -22.05, -22.2]),
    (-0.14, [-22.3]), (-0.13, [-22.5, -22.6]), (-0.125, [-22.7, -22.85]), (-0.115, [-23.0, -23.2]),
    (-0.105, [-23.35, -23.5, -23.65]), (-0.095, [-23.7, -23.85, -24.0]), (-0.085, [-24.1, -24.2, -24.35]),
    (-0.075, [-24.4, -24.5, -24.6]), (-0.065, [-24.65, -24.75, -24.85]), (-0.055, [-24.9, -24.95, -25]),
]

# right chart, dense band and stray points at the far end
right_band = [
    (-0.16, [-21.69, -21.79, -21.92, -22.02, -22.3, -22.55, -22.8, -23.1, -23.3, -23.5, -23.7, -24.1, -24.3, -24.5, -24.8, -24.9, -25]),
    (-0.15, [-21.75, -21.9, -22.1, -22.2, -22.4, -22.6, -22.75, -22.9, -23.05, -23.2, -23.35, -23.5, -23.65, -23.8, -24.3, -24.45, -24.65, -24.95]),
    (-0.14, [-22.0, -22.15, -22.3, -22.45, -22.6, -22.7, -22.85, -23, -23.1, -23.25, -23.4, -23.55, -23.7, -23.85, -24.0, -24.4, -24.6, -24.75, -25]),
    (-0.13, [-22.05, -22.25, -22.4, -22.5, -22.65, -22.8, -22.95, -23.1, -23.25, -23.4, -23.5, -23.6, -23.75, -23.9, -24.05, -24.2, -24.35, -24.55, -24.7, -24.9]),
    (-0.12, [-22.6, -22.75, -22.9, -23.05, -23.2, -23.3, -23.45, -23.6, -23.7, -23.85, -24.0, -24.1, -24.25, -24.4, -24.5, -24.65, -24.8, -24.95, -25]),
    (-0.11, [-22.2, -22.38, -22.7, -22.9, -23.3, -23.45, -23.55, -23.7, -23.8, -23.95, -24.05, -24.2, -24.3, -24.4, -24.55, -24.7, -24.85, -25]),
    (-0.10, [-22.44, -22.83, -22.96, -23.4, -23.5, -23.65, -23.75, -23.9, -24, -24.15, -24.25, -24.35, -24.45, -24.55, -24.65, -24.75, -24.9, -25]),
    (-0.09, [-23.18, -23.6, -23.8, -23.95, -24.05, -24.2, -24.3, -24.4, -24.5, -24.6, -24.7, -24.8, -24.85, -24.95]),
    (-0.08, [-22.05, -22.66, -22.9, -23.42, -24.25, -24.35, -24.45, -24.55, -24.65, -24.7, -24.8, -24.9, -25]),
    (-0.07, [-22.49, -22.7, -23.7, -24.0, -24.5, -24.6, -24.7, -24.8, -24.88, -24.95, -25]),
    (-0.06, [-22.27, -23.0, -23.25, -23.88, -24.14, -24.7, -24.8, -24.9, -25]),
    (-0.05, [-22.31, -22.92, -23.5, -23.92, -24.4, -24.85, -24.92, -25]),
    (-0.04, [-22.75, -23.18, -24.14, -24.53]),
    (-0.03, [-22.53, -23.35, -23.62, -24.31, -24.74, -24.92, -25]),
    (-0.02, [-22.79, -23.48]),
    (-0.01, [-23.0, -23.66, -24.0, -24.61, -24.76]),
    (0.0, [-22.83, -23.25, -23.88, -24.07, -24.79, -24.96]),
]


def flatten(*groups):
    xs, ys = [], []
    for rows in groups:
        for mag, elongs in rows:
            for e in elongs:
                xs.append(e)
                ys.append(mag)
    return xs, ys


grid_major = "#868686"
grid_minor = "#b2b2b2"
page_bg = "#d9d9d9"
font_family = "Liberation Sans"

left_x, left_y = flatten(left_upper, left_lower, left_fill, left_upper_rim, left_lower_rim, left_dense)
right_x, right_y = flatten(right_top, right_edge, right_mid, right_crowd, right_upper_rim, right_rim, right_band)

fig = go.Figure()
fig.add_trace(go.Scatter(x=left_x, y=left_y, mode="markers", xaxis="x", yaxis="y",
                         marker=dict(color="#0000ff", size=3.6), cliponaxis=False, showlegend=False))
fig.add_trace(go.Scatter(x=right_x, y=right_y, mode="markers", xaxis="x2", yaxis="y2",
                         marker=dict(color="#0000ff", size=3.6), cliponaxis=False, showlegend=False))


def x_axis(rng, ticks, domain, anchor):
    return dict(domain=domain, range=rng, anchor=anchor, tickmode="array", tickvals=ticks,
                ticktext=[str(t) for t in ticks], ticks="outside", ticklen=6, tickwidth=2,
                tickcolor=grid_major, showgrid=True, gridcolor=grid_major, gridwidth=2,
                minor=dict(dtick=1, showgrid=True, gridcolor=grid_minor, gridwidth=2, ticks=""),
                showline=True, mirror=True, linecolor=grid_major, linewidth=2, zeroline=False,
                tickfont=dict(family=font_family, size=19.5, color="black", weight=700))


def y_axis(domain, anchor):
    return dict(domain=domain, range=[0, -2], anchor=anchor, tickmode="array", tickvals=y_ticks,
                ticktext=y_labels, ticks="outside", ticklen=14, tickcolor="rgba(0,0,0,0)",
                showgrid=True, gridcolor=grid_major, gridwidth=2,
                minor=dict(dtick=0.04, showgrid=True, gridcolor=grid_minor, gridwidth=2, ticks=""),
                showline=True, mirror=True, linecolor=grid_major, linewidth=2, zeroline=False,
                tickfont=dict(family=font_family, size=19.5, color="black", weight=700))


y_dom = [1 - 703 / 751, 1 - 68 / 751]
fig.update_layout(
    width=1741, height=751, margin=dict(l=0, r=0, t=0, b=0, autoexpand=False),
    paper_bgcolor=page_bg, plot_bgcolor=page_bg,
    xaxis=x_axis([25, 5], x_ticks_left, [65 / 1741, 842 / 1741], "y"),
    yaxis=y_axis(y_dom, "x"),
    xaxis2=x_axis([-5, -25], x_ticks_right, [935 / 1741, 1704 / 1741], "y2"),
    yaxis2=y_axis(y_dom, "x2"),
    annotations=[
        dict(text=title_left, xref="paper", yref="paper", x=435 / 1741, y=1 - 32 / 751, showarrow=False,
             xanchor="center", yanchor="middle", font=dict(family=font_family, size=19.7, color="black", weight=700)),
        dict(text=title_right, xref="paper", yref="paper", x=1305 / 1741, y=1 - 32 / 751, showarrow=False,
             xanchor="center", yanchor="middle", font=dict(family=font_family, size=19.7, color="black", weight=700)),
    ],
)

# y ticks of the left chart stick out on its right side
for v in y_ticks:
    fig.add_shape(type="line", xref="x domain", yref="y", x0=1, x1=1.008, y0=v, y1=v,
                  line=dict(color=grid_major, width=2))

# chart frames
fig.add_shape(type="line", xref="paper", yref="paper", x0=870 / 1741, x1=870 / 1741, y0=0, y1=1,
              line=dict(color="#8c8c8c", width=2))
fig.add_shape(type="rect", xref="paper", yref="paper", x0=0, x1=1, y0=0, y1=1,
              line=dict(color="#a6a6a6", width=2))

fig.write_html("out.html", config={"displayModeBar": False},
               post_script="document.body.style.margin='0';document.body.style.overflow='hidden';")
